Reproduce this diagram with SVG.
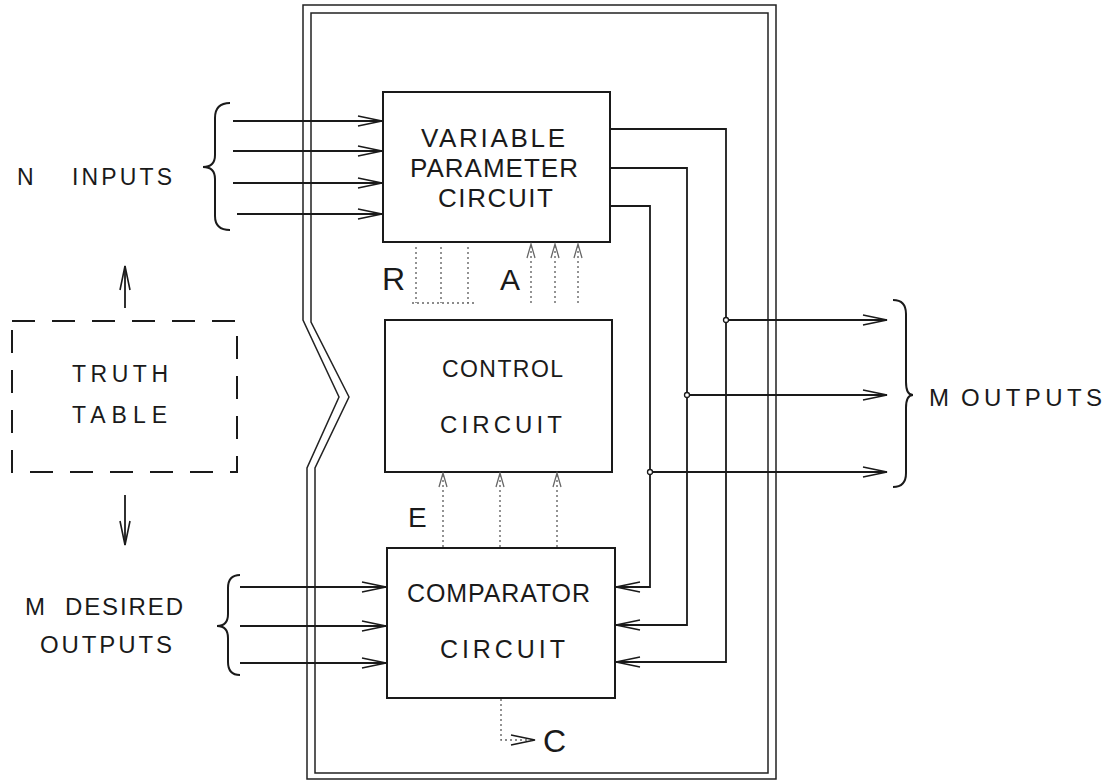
<svg xmlns="http://www.w3.org/2000/svg" width="1115" height="781" viewBox="0 0 1115 781">
<style>
.bg{fill:#ffffff}
.frame{fill:none;stroke:#222;stroke-width:1.5}
.box{fill:none;stroke:#1a1a1a;stroke-width:2}
.tt{fill:none;stroke:#1a1a1a;stroke-width:2;stroke-dasharray:23 17}
.wire{fill:none;stroke:#1a1a1a;stroke-width:1.8}
.faint{fill:none;stroke:#666;stroke-width:1.4;stroke-dasharray:2 3}
.brace{fill:none;stroke:#1a1a1a;stroke-width:2}
.dot{fill:#fff;stroke:#1a1a1a;stroke-width:1.3}
.lbl{font-family:"Liberation Sans",Arial,sans-serif;fill:#1a1a1a}
</style>
<defs>
<marker id="ah" markerUnits="userSpaceOnUse" markerWidth="30" markerHeight="12" refX="24" refY="5" orient="auto" overflow="visible">
<path d="M0,0 L24,5 L0,10" fill="none" stroke="#1a1a1a" stroke-width="1.6"/>
</marker>
<marker id="ahg" markerUnits="userSpaceOnUse" markerWidth="16" markerHeight="10" refX="14" refY="4" orient="auto" overflow="visible">
<path d="M0,0 L14,4 L0,8" fill="none" stroke="#666" stroke-width="1.3"/>
</marker>
</defs>
<rect class="bg" x="0" y="0" width="1115" height="781"/>

<g id="frame">
<path class="frame" d="M303,5 H776 V779 H307 V468 L339,397 L303,320 Z"/>
<path class="frame" d="M311,13 H768 V773 H315 V468 L349,397 L311,322 Z"/>
</g>

<g id="n-inputs">
<path class="brace" d="M230,103 Q215,103 215,118 L215,155 Q215,167 203,167 Q215,167 215,179 L215,216 Q215,230 230,230"/>
<text class="lbl" font-size="23" y="185"><tspan x="17">N </tspan><tspan x="72" textLength="100" lengthAdjust="spacing">INPUTS</tspan></text>
</g>

<g id="truth-table">
<rect class="tt" x="12" y="321" width="225" height="151"/>
<text class="lbl" font-size="23" x="72" y="382" textLength="96" lengthAdjust="spacing">TRUTH</text>
<text class="lbl" font-size="23" x="72" y="423" textLength="95" lengthAdjust="spacing">TABLE</text>
</g>

<g id="m-desired">
<path class="brace" d="M240,575 Q228,575 228,588 L228,614 Q228,626 217,626 Q228,626 228,638 L228,662 Q228,675 240,675"/>
<text class="lbl" font-size="24" y="615"><tspan x="25">M </tspan><tspan x="65" textLength="118" lengthAdjust="spacing">DESIRED</tspan></text>
<text class="lbl" font-size="24" x="40" y="653" textLength="132" lengthAdjust="spacing">OUTPUTS</text>
</g>

<g id="variable-parameter-circuit">
<rect class="box" x="383" y="92" width="227" height="150"/>
<text class="lbl" font-size="26" x="421" y="147" textLength="144" lengthAdjust="spacing">VARIABLE</text>
<text class="lbl" font-size="26" x="410" y="177" textLength="168" lengthAdjust="spacing">PARAMETER</text>
<text class="lbl" font-size="26" x="438" y="207" textLength="115" lengthAdjust="spacing">CIRCUIT</text>
</g>

<g id="control-circuit">
<rect class="box" x="385" y="320" width="227" height="152"/>
<text class="lbl" font-size="23" x="442" y="377" textLength="121" lengthAdjust="spacing">CONTROL</text>
<text class="lbl" font-size="24" x="440" y="433" textLength="122" lengthAdjust="spacing">CIRCUIT</text>
</g>

<g id="comparator-circuit">
<rect class="box" x="387" y="548" width="228" height="150"/>
<text class="lbl" font-size="25" x="407" y="602" textLength="183" lengthAdjust="spacing">COMPARATOR</text>
<text class="lbl" font-size="25" x="440" y="658" textLength="125" lengthAdjust="spacing">CIRCUIT</text>
</g>

<g id="m-outputs">
<path class="brace" d="M893,300 Q906,300 906,314 L906,382 Q906,395 913,395 Q906,395 906,408 L906,473 Q906,487 893,487"/>
<text class="lbl" font-size="24" y="406"><tspan x="929">M </tspan><tspan x="961" textLength="141" lengthAdjust="spacing">OUTPUTS</tspan></text>
</g>

<g id="control-labels">
<text class="lbl" font-size="32" x="382" y="290">R</text>
<text class="lbl" font-size="30" x="500" y="290">A</text>
<text class="lbl" font-size="28" x="408" y="527">E</text>
<text class="lbl" font-size="32" x="543" y="752">C</text>
</g>

<g id="connectors">
<path class="wire" d="M233,121 H382" marker-end="url(#ah)"/>
<path class="wire" d="M233,151 H382" marker-end="url(#ah)"/>
<path class="wire" d="M233,183 H382" marker-end="url(#ah)"/>
<path class="wire" d="M237,214 H382" marker-end="url(#ah)"/>
<path class="wire" d="M240,587 H386" marker-end="url(#ah)"/>
<path class="wire" d="M240,626 H386" marker-end="url(#ah)"/>
<path class="wire" d="M240,663 H386" marker-end="url(#ah)"/>
<path class="wire" d="M610,129 H726 V662 H616" marker-end="url(#ah)"/>
<path class="wire" d="M610,168 H687 V625 H616" marker-end="url(#ah)"/>
<path class="wire" d="M610,206 H650 V587 H616" marker-end="url(#ah)"/>
<path class="wire" d="M726,320 H887" marker-end="url(#ah)"/>
<path class="wire" d="M687,395 H887" marker-end="url(#ah)"/>
<path class="wire" d="M650,472 H887" marker-end="url(#ah)"/>
<circle class="dot" cx="726" cy="320" r="2.5"/>
<circle class="dot" cx="687" cy="395" r="2.5"/>
<circle class="dot" cx="650" cy="472" r="2.5"/>
<path class="wire" d="M125,308 V266" marker-end="url(#ah)"/>
<path class="wire" d="M125,495 V545" marker-end="url(#ah)"/>
<path class="faint" d="M416,247 V303 M441,247 V303 M468,247 V303 M412,303 H475"/>
<path class="faint" d="M531,303 V244" marker-end="url(#ahg)"/>
<path class="faint" d="M555,303 V244" marker-end="url(#ahg)"/>
<path class="faint" d="M578,303 V244" marker-end="url(#ahg)"/>
<path class="faint" d="M443,547 V473" marker-end="url(#ahg)"/>
<path class="faint" d="M500,547 V473" marker-end="url(#ahg)"/>
<path class="faint" d="M557,547 V473" marker-end="url(#ahg)"/>
<path class="faint" d="M501,699 V740 H535" stroke="#333" marker-end="url(#ah)"/>
</g>
</svg>
